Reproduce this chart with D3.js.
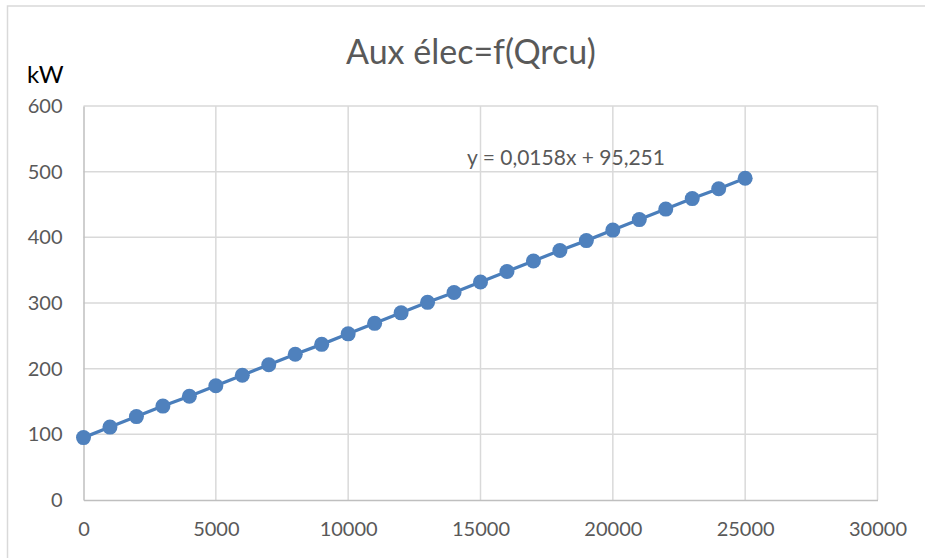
<!DOCTYPE html>
<meta charset="utf-8">
<style>
body { margin: 0; background: #fff; }
text { font-family: Lato, "Open Sans", sans-serif; }
</style>
<svg width="925" height="558"></svg>
<script src="https://cdn.jsdelivr.net/npm/d3@7"></script>
<script>

// Qrcu (x) and electrical aux in kW (y)
var qrcu = [0, 1000, 2000, 3000, 4000, 5000, 6000, 7000, 8000, 9000, 10000, 11000, 12000,
            13000, 14000, 15000, 16000, 17000, 18000, 19000, 20000, 21000, 22000, 23000, 24000, 25000];
var kw = [95, 111, 127, 143, 158, 174, 190, 206, 222, 237, 253, 269, 285,
          301, 316, 332, 348, 364, 380, 395, 411, 427, 443, 459, 474, 490];
var xTicks = [0, 5000, 10000, 15000, 20000, 25000, 30000];
var yTicks = [0, 100, 200, 300, 400, 500, 600];
var title = "Aux élec=f(Qrcu)";
var yLabel = "kW";
var trendLabel = "y = 0,0158x + 95,251";

var svg = d3.select("svg"),
    margin = {top: 106, right: 47.5, bottom: 58, left: 83.5},
    width = +svg.attr("width") - margin.left - margin.right,
    height = +svg.attr("height") - margin.top - margin.bottom;

// outer chart frame
svg.append("rect")
    .attr("x", 7.5).attr("y", 6)
    .attr("width", 940).attr("height", 570)
    .attr("fill", "none")
    .attr("stroke", "#d9d9d9")
    .attr("stroke-width", 1.5);

var g = svg.append("g").attr("transform", "translate(" + margin.left + "," + margin.top + ")");

var x = d3.scaleLinear().domain([0, 30000]).range([0, width]);
var y = d3.scaleLinear().domain([0, 600]).range([height, 0]);

// gridlines
g.append("g")
    .selectAll("line.h")
    .data(yTicks.slice(1))
    .enter().append("line")
    .attr("x1", 0).attr("x2", width)
    .attr("y1", function(d) { return y(d); })
    .attr("y2", function(d) { return y(d); })
    .attr("stroke", "#d9d9d9").attr("stroke-width", 1.5);

g.append("g")
    .selectAll("line.v")
    .data(xTicks.slice(1))
    .enter().append("line")
    .attr("y1", 0).attr("y2", height)
    .attr("x1", function(d) { return x(d); })
    .attr("x2", function(d) { return x(d); })
    .attr("stroke", "#d9d9d9").attr("stroke-width", 1.5);

// axes
var xAxis = g.append("g")
    .attr("transform", "translate(0," + height + ")")
    .call(d3.axisBottom(x).tickValues(xTicks).tickSize(0).tickPadding(22).tickFormat(d3.format("d")));
xAxis.select(".domain").attr("stroke", "#bfbfbf").attr("stroke-width", 1.5);

var yAxis = g.append("g")
    .call(d3.axisLeft(y).tickValues(yTicks).tickSize(0).tickPadding(21).tickFormat(d3.format("d")));
yAxis.select(".domain").attr("stroke", "#bfbfbf").attr("stroke-width", 1.5);

svg.selectAll(".tick text")
    .attr("fill", "#595959")
    .style("font-size", "20px");

// series
var pts = qrcu.map(function(d, i) { return [d, kw[i]]; });

g.append("path")
    .datum(pts)
    .attr("fill", "none")
    .attr("stroke", "#4a7ebb")
    .attr("stroke-width", 3.25)
    .attr("d", d3.line()
        .x(function(d) { return x(d[0]); })
        .y(function(d) { return y(d[1]); }));

g.selectAll(".dot")
    .data(pts)
    .enter().append("circle")
    .attr("class", "dot")
    .attr("cx", function(d) { return x(d[0]); })
    .attr("cy", function(d) { return y(d[1]); })
    .attr("r", 7.5)
    .attr("fill", "#4f81bd");

// texts
svg.append("text")
    .attr("x", 471).attr("y", 64)
    .attr("text-anchor", "middle")
    .attr("fill", "#595959")
    .style("font-size", "34px")
    .text(title);

svg.append("text")
    .attr("x", 27).attr("y", 83)
    .attr("fill", "#000")
    .style("font-size", "24px")
    .text(yLabel);

svg.append("text")
    .attr("x", 467).attr("y", 165)
    .attr("fill", "#595959")
    .style("font-size", "21px")
    .text(trendLabel);

</script>
